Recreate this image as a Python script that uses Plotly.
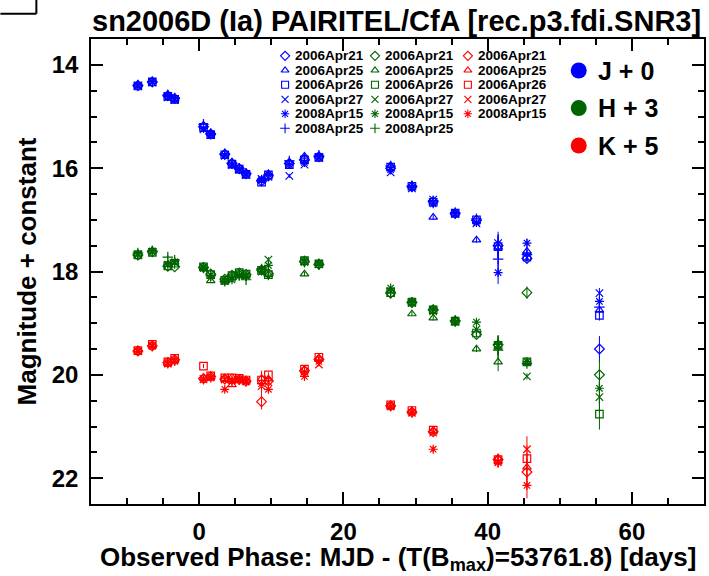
import plotly.graph_objects as go

# ---------------- data (phase in days, raw magnitudes) ----------------
phase = [-8.5, -6.5, -4.35, -3.4, 0.6, 1.6, 3.55, 4.55, 5.55, 6.5, 8.65, 9.6,
         12.5, 14.6, 16.6, 26.55, 29.5, 32.45, 35.5, 38.45, 41.45, 45.45, 55.5]

reductions = ["2006Apr21", "2006Apr25", "2006Apr26", "2006Apr27", "2008Apr15", "2008Apr25"]
symbols = ["diamond-open", "triangle-up-open", "square-open", "x-thin-open",
           "asterisk-open", "cross-thin-open"]

J_2006Apr21 = [14.40, 14.33, 14.60, 14.65, 15.20, 15.34, 15.73, 15.91, 16.01, 16.11, 16.25, 16.15,
               15.91, 15.83, 15.78, 16.00, 16.36, 16.65, 16.88, 17.01, 17.50, 17.75, 19.50]
J_2006Apr25 = [14.39, 14.32, 14.58, 14.66, 15.17, 15.33, 15.71, 15.89, 15.99, 16.10, 16.24, 16.11,
               15.88, 15.77, 15.77, 15.95, 16.33, 16.95, 16.87, 17.39, 17.53, 17.61, 18.75]
J_2006Apr26 = [14.41, 14.33, 14.61, 14.67, 15.21, 15.35, 15.74, 15.92, 16.02, 16.12, 16.27, 16.13,
               15.93, 15.84, 15.79, 15.98, 16.35, 16.66, 16.87, 17.00, 17.52, 17.71, 18.85]
J_2006Apr27 = [14.40, 14.34, 14.63, 14.68, 15.25, 15.36, 15.76, 15.94, 16.03, 16.13, 16.21, 16.17,
               16.15, 15.93, 15.80, 16.08, 16.39, 16.61, 16.89, 17.07, 17.45, 17.73, 18.42]
J_2008Apr15 = [14.41, 14.32, 14.59, 14.66, 15.23, 15.34, 15.75, 15.93, 16.02, 16.11, 16.23, 16.12,
               15.93, 15.89, 15.77, 16.03, 16.37, 16.69, 16.88, 17.05, 18.02, 17.45, 18.58]
J_2008Apr25 = [14.39, 14.33, 14.58, 14.64, 15.15, 15.33, 15.72, 15.90, 16.00, 16.10, 16.23, 16.13,
               15.86, 15.85, 15.75, 15.96, 16.34, 16.63, 16.86, 16.98, 17.76, 17.67, 18.69]
J_err = [0.03, 0.03, 0.03, 0.03, 0.03, 0.03, 0.03, 0.03, 0.03, 0.03, 0.03, 0.03,
         0.04, 0.04, 0.03, 0.04, 0.04, 0.05, 0.04, 0.05, 0.22, 0.08, 0.10]

H_2006Apr21 = [14.68, 14.62, 14.90, 14.91, 14.92, 15.05, 15.15, 15.07, 15.03, 15.06, 14.97, 15.04,
               None, 14.80, 14.86, 15.42, 15.60, 15.74, 15.96, 16.22, 16.42, 15.41, 17.00]
H_2006Apr25 = [14.66, 14.61, 14.86, 14.82, 14.93, 15.18, 15.17, 15.08, 15.04, 15.07, 14.96, 15.06,
               None, 15.05, 14.84, 15.38, 15.82, 15.90, 15.94, 16.50, 16.75, 16.76, None]
H_2006Apr26 = [14.68, 14.63, 14.89, 14.84, 14.91, 15.06, 15.17, 15.08, 15.02, 15.05, 14.98, 15.06,
               None, 14.79, 14.85, 15.41, 15.59, 15.74, 15.96, 16.19, 16.43, 16.75, 17.76]
H_2006Apr27 = [14.67, 14.62, 14.87, 14.83, 14.92, 15.07, 15.18, 15.12, 15.07, 15.08, 15.00, 14.77,
               None, 14.82, 14.86, 15.38, 15.61, 15.77, 15.97, 16.12, 16.44, 17.03, 17.43]
H_2008Apr15 = [14.66, 14.60, 14.86, 14.81, 14.94, 15.07, 15.18, 15.16, 15.09, 15.09, 14.96, 14.88,
               None, 14.78, 14.84, 15.32, 15.58, 15.73, 15.98, 15.98, 16.41, 16.74, 17.26]
H_2008Apr25 = [14.64, 14.60, 14.72, 14.78, 14.93, 15.08, 15.19, 15.11, 15.07, 15.16, 14.95, 15.07,
               None, 14.82, 14.87, 15.40, 15.60, 15.75, 15.95, 16.17, 16.52, 16.78, None]
H_err = [0.03, 0.03, 0.04, 0.04, 0.03, 0.03, 0.03, 0.03, 0.03, 0.03, 0.05, 0.05,
         0.05, 0.04, 0.03, 0.04, 0.04, 0.05, 0.05, 0.06, 0.18, 0.06, 0.30]

K_2006Apr21 = [14.54, 14.44, 14.76, 14.71, 15.07, 15.03, 15.08, 15.08, 15.09, 15.12, 15.52, 15.12,
               None, 14.92, 14.70, 15.60, 15.72, 16.10, None, None, 16.64, 16.88, None]
K_2006Apr25 = [14.52, 14.42, 14.77, 14.72, 15.06, 15.04, 15.07, 15.19, 15.10, 15.11, 15.07, 15.08,
               None, 14.90, 14.69, 15.59, 15.70, 16.08, None, None, 16.62, 16.79, None]
K_2006Apr26 = [14.53, 14.41, 14.75, 14.68, 14.83, 15.02, 15.06, 15.06, 15.07, 15.10, 15.10, 15.00,
               None, 14.89, 14.66, 15.58, 15.69, 16.07, None, None, 16.64, 16.62, None]
K_2006Apr27 = [14.54, 14.43, 14.78, 14.72, 15.08, 15.05, 15.09, 15.10, 15.08, 15.12, 15.22, 15.14,
               None, 14.94, 14.80, 15.61, 15.73, 16.12, None, None, 16.68, 16.44, None]
K_2008Apr15 = [14.55, 14.45, 14.79, 14.74, 15.10, 15.06, 15.28, 15.12, 15.10, 15.14, 15.17, 15.28,
               None, 15.03, 14.74, 15.62, 15.74, 16.44, None, None, 16.70, 17.14, None]
K_err = [0.04, 0.04, 0.04, 0.04, 0.04, 0.04, 0.04, 0.04, 0.04, 0.04, 0.15, 0.05,
         0.05, 0.05, 0.04, 0.05, 0.05, 0.06, 0.06, 0.06, 0.10, 0.25, 0.10]

ERR_OVERRIDE = {("J", "2006Apr21", 22): 0.25, ("H", "2006Apr21", 21): 0.12}

band_names = ["J", "H", "K"]
band_offsets = [0, 3, 5]
band_colors = ["#0000ff", "#006400", "#ff0000"]
band_series = [
    [J_2006Apr21, J_2006Apr25, J_2006Apr26, J_2006Apr27, J_2008Apr15, J_2008Apr25],
    [H_2006Apr21, H_2006Apr25, H_2006Apr26, H_2006Apr27, H_2008Apr15, H_2008Apr25],
    [K_2006Apr21, K_2006Apr25, K_2006Apr26, K_2006Apr27, K_2008Apr15],
]
band_errs = [J_err, H_err, K_err]

title_text = "sn2006D (Ia) PAIRITEL/CfA [rec.p3.fdi.SNR3]"
x_title = "Observed Phase: MJD - (T(B<sub>max</sub>)=53761.8) [days]"
y_title = "Magnitude + constant"
x_tickvals = [0, 20, 40, 60]
y_tickvals = [14, 16, 18, 20, 22]

# ---------------- layout geometry (pixels) ----------------
W, HGT = 709, 576
PL, PR, PT, PB = 90.7, 704.4, 39.2, 504.1
FONT = "Liberation Sans"


def fx(px):
    return (px - PL) / (PR - PL)


def fy(py):
    return 1 - (py - PT) / (PB - PT)


fig = go.Figure()

for b, band in enumerate(band_names):
    color = band_colors[b]
    for r, vals in enumerate(band_series[b]):
        xs, ys, es = [], [], []
        for i, v in enumerate(vals):
            if v is None:
                continue
            xs.append(phase[i])
            ys.append(v + band_offsets[b])
            es.append(ERR_OVERRIDE.get((band, reductions[r], i), band_errs[b][i]))
        fig.add_trace(go.Scatter(
            x=xs, y=ys, mode="markers", showlegend=False,
            name=f"{band} {reductions[r]}",
            marker=dict(symbol=symbols[r], size=7.5, color=color,
                        line=dict(width=1.2, color=color)),
            error_y=dict(type="data", array=es, visible=True, color=color,
                         thickness=1, width=0),
        ))

# ---------------- custom legends (overlay axes in plot-fraction units) ----------------
leg_col_px = [285, 375, 468]
leg_row_px = [56, 70.5, 85, 99.5, 114, 128.5]
annotations = []
for b in range(3):
    n = len(band_series[b])
    fig.add_trace(go.Scatter(
        x=[fx(leg_col_px[b])] * n, y=[fy(leg_row_px[r]) for r in range(n)],
        mode="markers", xaxis="x2", yaxis="y2", showlegend=False, hoverinfo="skip",
        cliponaxis=False,
        marker=dict(symbol=symbols[:n], size=7, color=band_colors[b],
                    line=dict(width=1.1, color=band_colors[b])),
    ))
    for r in range(n):
        annotations.append(dict(
            x=fx(leg_col_px[b] + 8), y=fy(leg_row_px[r]), xref="paper", yref="paper",
            text=reductions[r], showarrow=False, xanchor="left", yanchor="middle",
            font=dict(family=FONT, size=13.5, color="black", weight="bold")))

big_rows_px = [70.7, 108.3, 145.7]
big_labels = [f"{band_names[b]} + {band_offsets[b]}" for b in range(3)]
fig.add_trace(go.Scatter(
    x=[fx(579)] * 3, y=[fy(p) for p in big_rows_px], mode="markers",
    xaxis="x2", yaxis="y2", showlegend=False, hoverinfo="skip", cliponaxis=False,
    marker=dict(symbol="circle", size=16, color=band_colors, line=dict(width=0)),
))
for b in range(3):
    annotations.append(dict(
        x=fx(596), y=fy(big_rows_px[b]), xref="paper", yref="paper",
        text=big_labels[b], showarrow=False, xanchor="left", yanchor="middle",
        font=dict(family=FONT, size=25, color="black", weight="bold")))

# title
annotations.append(dict(
    x=fx(397), y=fy(21), xref="paper", yref="paper", text=title_text, showarrow=False,
    xanchor="center", yanchor="middle",
    font=dict(family=FONT, size=29, color="black", weight="bold")))

# x-axis title (placed explicitly below tick labels)
annotations.append(dict(
    x=fx(398.5), y=fy(540), xref="paper", yref="paper", text=x_title, showarrow=False,
    xanchor="center", yanchor="top",
    font=dict(family=FONT, size=26, color="black", weight="bold")))

axis_common = dict(
    showline=True, linecolor="black", linewidth=1.5, mirror="ticks",
    ticks="inside", tickcolor="black", tickwidth=1.5, ticklen=12,
    showgrid=False, zeroline=False,
    tickfont=dict(family=FONT, size=24, color="black", weight="bold"),
)

fig.update_layout(
    width=W, height=HGT,
    margin=dict(l=PL, r=W - PR, t=PT, b=HGT - PB, autoexpand=False),
    paper_bgcolor="white", plot_bgcolor="white",
    font=dict(family=FONT, color="black"),
    xaxis=dict(range=[-15, 70], tickvals=x_tickvals, ticklabelstandoff=5,
               minor=dict(ticks="inside", dtick=5, tick0=0, ticklen=6,
                          tickwidth=1.5, tickcolor="black"),
               **axis_common),
    yaxis=dict(range=[22.5, 13.5], tickvals=y_tickvals, ticklabelstandoff=6,
               minor=dict(ticks="inside", dtick=0.5, tick0=0, ticklen=6,
                          tickwidth=1.5, tickcolor="black"),
               title=dict(text=y_title, standoff=8,
                          font=dict(family=FONT, size=26, color="black", weight="bold")),
               **axis_common),
    xaxis2=dict(overlaying="x", range=[0, 1], visible=False, anchor="y2"),
    yaxis2=dict(overlaying="y", range=[0, 1], visible=False, anchor="x2"),
    annotations=annotations,
    shapes=[
        dict(type="line", xref="paper", yref="paper", x0=fx(0), x1=fx(36), y0=fy(14), y1=fy(14),
             line=dict(color="black", width=2)),
        dict(type="line", xref="paper", yref="paper", x0=fx(36), x1=fx(36), y0=fy(0), y1=fy(14),
             line=dict(color="black", width=2)),
    ],
    showlegend=False,
)

fig.write_html("out.html")
